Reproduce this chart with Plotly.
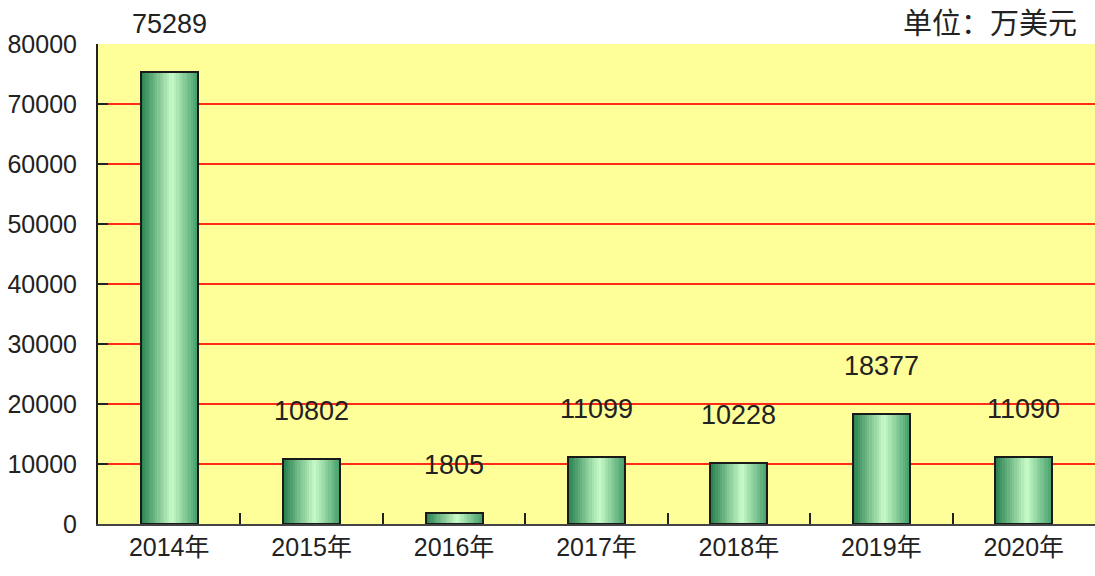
import plotly.graph_objects as go

categories = ["2014年", "2015年", "2016年", "2017年", "2018年", "2019年", "2020年"]
values = [75289, 10802, 1805, 11099, 10228, 18377, 11090]
y_ticks = [0, 10000, 20000, 30000, 40000, 50000, 60000, 70000, 80000]
unit_text = "单位：万美元"

FONT = "Liberation Sans, Noto Sans CJK SC, sans-serif"

fig = go.Figure()

# gradient bars built from vertical strips
bar_w = 0.4
n = 24
strip = bar_w / n
dark = (38, 128, 78)
light = (200, 252, 200)
right = (66, 156, 104)
peak = 0.55
for i in range(n):
    t = (i + 0.5) / n
    if t <= peak:
        f = t / peak
        c = tuple(int(dark[k] + (light[k] - dark[k]) * f) for k in range(3))
    else:
        f = (t - peak) / (1 - peak)
        c = tuple(int(light[k] + (right[k] - light[k]) * f) for k in range(3))
    fig.add_trace(go.Bar(
        x=categories, y=values, width=strip + 0.002, offset=-bar_w / 2 + i * strip,
        marker=dict(color="rgb(%d,%d,%d)" % c, line=dict(width=0)),
        hoverinfo="skip", showlegend=False,
    ))

# outline
fig.add_trace(go.Bar(
    x=categories, y=values, width=bar_w, offset=-bar_w / 2,
    marker=dict(color="rgba(0,0,0,0)", line=dict(color="#1a1a1a", width=2)),
    showlegend=False,
))

for c, v in zip(categories, values):
    fig.add_annotation(x=c, y=v, text=str(v), showarrow=False, yshift=48,
                       font=dict(family=FONT, size=27, color="#222"))

fig.add_annotation(xref="paper", yref="paper", x=1.0, y=1.0, xanchor="right", yanchor="bottom",
                   text=unit_text, showarrow=False, xshift=-16, yshift=0,
                   font=dict(family="Noto Sans CJK SC, sans-serif", size=29, color="#222"))

fig.update_layout(
    width=1095, height=576,
    margin=dict(l=98, r=0, t=44, b=52),
    paper_bgcolor="white", plot_bgcolor="#FFFF99",
    barmode="overlay", bargap=0,
    xaxis=dict(
        tickson="boundaries", ticks="inside", ticklen=11, tickcolor="#222", tickwidth=2,
        showgrid=False, showline=True, linecolor="#444", linewidth=2,
        tickfont=dict(family=FONT, size=25, color="#222"),
    ),
    yaxis=dict(
        range=[0, 80000], tickvals=y_ticks, ticktext=[str(t) for t in y_ticks],
        ticks="inside", ticklen=10, tickcolor="#222", tickwidth=2,
        showgrid=True, gridcolor="#FF2A1A", gridwidth=2,
        showline=True, linecolor="#222", linewidth=2,
        zeroline=False, ticklabelstandoff=14,
        tickfont=dict(family=FONT, size=25, color="#222"),
    ),
)

fig.write_html("out.html", config={"displayModeBar": False},
               post_script="document.body.style.margin='0';")
